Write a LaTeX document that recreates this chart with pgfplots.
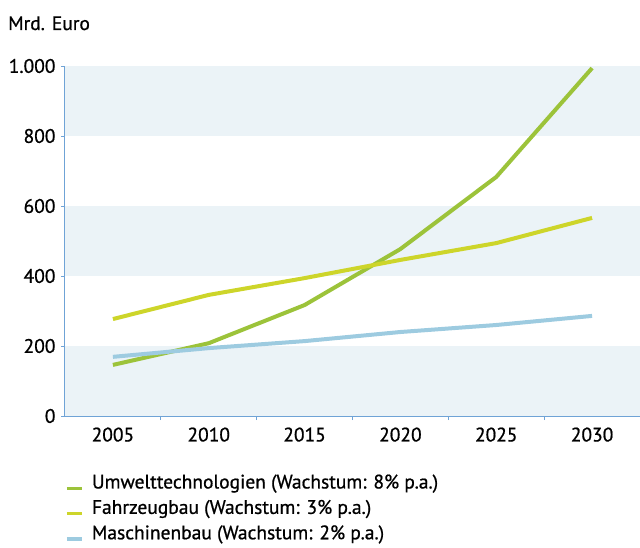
\documentclass[border=0pt]{standalone}
\usepackage{fontspec}
\setmainfont{PT Sans}[FakeBold=0.8]
\usepackage{pgfplots}
\pgfplotsset{compat=1.18}
\definecolor{umwelt}{HTML}{9CC33A}
\definecolor{fahrzeug}{HTML}{CDD52A}
\definecolor{maschine}{HTML}{9DCBE0}
\definecolor{band}{HTML}{EBF3F7}
\definecolor{axblue}{HTML}{6FA3D6}
\begin{document}
\begin{tikzpicture}[x=1pt,y=1pt]
\useasboundingbox (-65,-131) rectangle (575,416);
\begin{axis}[
  at={(0,0)}, anchor=south west,
  scale only axis, width=575pt, height=350pt,
  xmin=2002.5, xmax=2032.5, ymin=0, ymax=1000,
  axis lines*=left,
  axis line style={axblue, line width=1pt},
  xtick={2005,2010,2015,2020,2025,2030},
  xticklabels={2005,2010,2015,2020,2025,2030},
  major x tick style={draw=none},
  minor xtick={2007.5,2012.5,2017.5,2022.5,2027.5},
  minor x tick style={axblue, line width=1pt},
  minor tick length=4pt,
  ytick={0,200,400,600,800,1000},
  major y tick style={axblue, line width=1pt},
  major tick length=4pt,
  tick align=outside,
  /pgf/number format/1000 sep={.},
  /pgf/number format/assume math mode=true,
  tick label style={font=\fontsize{19.5}{22}\selectfont},
  xticklabel style={yshift=-4pt},
  yticklabel style={xshift=-2pt},
  clip=false,
  legend style={draw=none, fill=none, at={(0.0,-0.161)}, anchor=north west,
    font=\fontsize{19.5}{22}\selectfont, row sep=6pt,
    inner sep=0pt, nodes={inner sep=2pt},
    legend cell align=left},
  legend image code/.code={\draw[#1, line width=3.5pt] (0pt,-6pt) -- (15pt,-6pt); \path (21pt,-6pt);},
]
\fill[band] (axis cs:2002.5,0) rectangle (axis cs:2032.5,200);
\fill[band] (axis cs:2002.5,400) rectangle (axis cs:2032.5,600);
\fill[band] (axis cs:2002.5,800) rectangle (axis cs:2032.5,1000);
\addplot[umwelt, line width=4pt] coordinates {(2005,146) (2010,208) (2015,317) (2020,477) (2025,683) (2030,994)};
\addlegendentry{Umwelttechnologien (Wachstum: 8\% p.a.)}
\addplot[fahrzeug, line width=4pt] coordinates {(2005,277) (2010,346) (2015,394) (2020,446) (2025,494) (2030,566)};
\addlegendentry{Fahrzeugbau (Wachstum: 3\% p.a.)}
\addplot[maschine, line width=4pt] coordinates {(2005,169) (2010,194) (2015,214) (2020,240) (2025,260) (2030,286)};
\addlegendentry{Maschinenbau (Wachstum: 2\% p.a.)}
\end{axis}
\node[anchor=base west, inner sep=0pt, font=\fontsize{19.5}{22}\selectfont] at (-57,386) {Mrd. Euro};
\end{tikzpicture}
\end{document}
